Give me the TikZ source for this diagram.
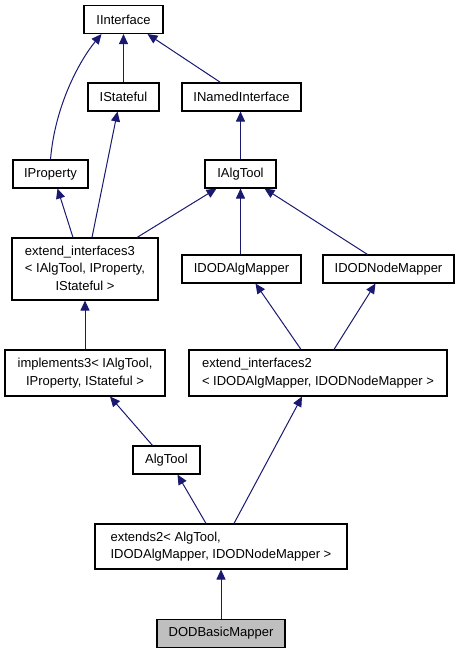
\documentclass[tikz,border=0pt]{standalone}
\usepackage{fontspec}
\setmainfont{Liberation Sans}
\usetikzlibrary{arrows.meta}

\definecolor{edgeblue}{RGB}{25,25,112}
\definecolor{basegray}{RGB}{191,191,191}

% class labels: all lines left, last line centred
\newcommand{\twolines}[2]{\begin{tabular}{@{}l@{}}#1\\\multicolumn{1}{@{}c@{}}{#2}\end{tabular}}
\newcommand{\threelines}[3]{\begin{tabular}{@{}l@{}}#1\\#2\\\multicolumn{1}{@{}c@{}}{#3}\end{tabular}}

\begin{document}
\begin{tikzpicture}[x=1pt,y=-1pt,
        font=\fontsize{13}{17.5}\selectfont,
        cls/.style={draw=black, line width=1.1pt, fill=white, inner sep=0pt, minimum height=28pt},
        inh/.style={edgeblue, line width=1pt, {Triangle[length=10pt,width=9pt]}-}]
        \useasboundingbox (0,0) rectangle (460,653);

        % classes
        \node[cls, minimum width=79pt] (iface) at (123.5,19.5) {IInterface};
        \node[cls, minimum width=71pt] (stateful) at (123.5,97) {IStateful};
        \node[cls, minimum width=119pt] (named) at (241.5,97) {INamedInterface};
        \node[cls, minimum width=75pt] (property) at (50.5,174) {IProperty};
        \node[cls, minimum width=71pt] (ialgtool) at (240.5,174) {IAlgTool};
        \node[cls, minimum width=146pt, minimum height=62pt] (ext3) at (85,269)
        {\threelines{extend\_interfaces3}{< IAlgTool, IProperty,}{IStateful >}};
        \node[cls, minimum width=119pt] (dodalg) at (241.5,269) {IDODAlgMapper};
        \node[cls, minimum width=131pt] (dodnode) at (388.5,269) {IDODNodeMapper};
        \node[cls, minimum width=160pt, minimum height=46pt] (impl3) at (85,373)
        {\twolines{implements3< IAlgTool,}{IProperty, IStateful >}};
        \node[cls, minimum width=258pt, minimum height=46pt] (ext2) at (318,373)
        {\twolines{extend\_interfaces2}{< IDODAlgMapper, IDODNodeMapper >}};
        \node[cls, minimum width=67pt] (algtool) at (166.5,460) {AlgTool};
        \node[cls, minimum width=252pt, minimum height=45pt] (extends2) at (221,546.5)
        {\twolines{extends2< AlgTool,}{IDODAlgMapper, IDODNodeMapper >}};
        \node[cls, minimum width=128pt, fill=basegray] (basic) at (221,633.5) {DODBasicMapper};

        % inheritance
        \draw[inh] ([xshift=-22]iface.south) .. controls (80,60) and (55,105) .. (property.north);
        \draw[inh] (iface) -- (stateful);
        \draw[inh] ([xshift=24]iface.south) -- ([xshift=-21]named.north);
        \draw[inh] (named.south -| ialgtool) -- (ialgtool);
        \draw[inh] ([xshift=7]property.south) -- ([xshift=-12]ext3.north);
        \draw[inh] ([xshift=-6]stateful.south) -- ([xshift=7]ext3.north);
        \draw[inh] ([xshift=-24]ialgtool.south) -- ([xshift=52]ext3.north);
        \draw[inh] (ialgtool.south |- ialgtool.south) -- (ialgtool.south |- dodalg.north);
        \draw[inh] ([xshift=24]ialgtool.south) -- ([xshift=-21]dodnode.north);
        \draw[inh] (ext3) -- (impl3);
        \draw[inh] ([xshift=14]dodalg.south) -- ([xshift=-17]ext2.north);
        \draw[inh] ([xshift=-13]dodnode.south) -- ([xshift=16]ext2.north);
        \draw[inh] ([xshift=25]impl3.south) -- ([xshift=-14]algtool.north);
        \draw[inh] ([xshift=11]algtool.south) -- ([xshift=-15]extends2.north);
        \draw[inh] ([xshift=-16]ext2.south) -- ([xshift=13]extends2.north);
        \draw[inh] (extends2) -- (basic);
    \end{tikzpicture}
\end{document}
